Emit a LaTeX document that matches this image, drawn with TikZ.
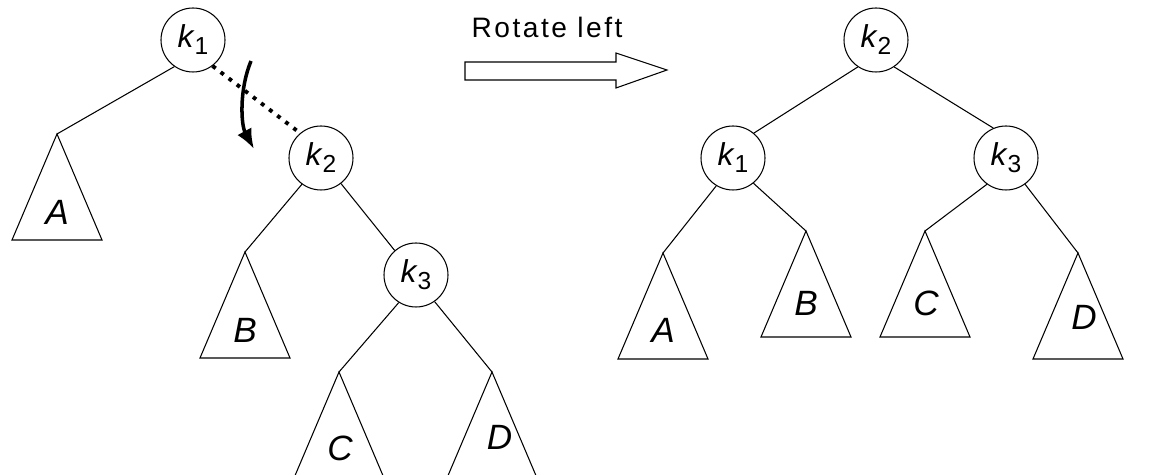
\documentclass[tikz,border=0pt]{standalone}
\usepackage{fontspec}
\setmainfont{Liberation Sans}
\usetikzlibrary{arrows.meta,calc}
\tikzset{
  keynode/.style={draw, circle, minimum size=12.8mm, inner sep=0pt, line width=0.6pt, font=\fontsize{18}{18}\selectfont},
  leaflabel/.style={font=\fontsize{20}{20}\selectfont\itshape, inner sep=0pt},
  branch/.style={draw, line width=0.6pt},
  dotbranch/.style={draw, line width=2.2pt, dash pattern=on 2.2pt off 3.6pt},
  turnarrow/.style={-{Latex[length=4mm, width=3.2mm]}, line width=2pt},
  blockarrow/.style={draw, line width=0.6pt, fill=white}
}
\newcommand{\keylabel}[1]{\textit{k}\raisebox{-4pt}{\fontsize{14}{14}\selectfont #1}}

\begin{document}
\begin{tikzpicture}
  \useasboundingbox (0,0) rectangle (23.28,9.5);
  \clip (0,0) rectangle (23.28,9.5);

  % before the rotation
  \node[keynode] (Lk1) at (3.86,8.70) {\keylabel{1}};
  \node[keynode] (Lk2) at (6.42,6.34) {\keylabel{2}};
  \node[keynode] (Lk3) at (8.32,4.00) {\keylabel{3}};

  % after the rotation
  \node[keynode] (Rk2) at (17.52,8.70) {\keylabel{2}};
  \node[keynode] (Rk1) at (14.66,6.34) {\keylabel{1}};
  \node[keynode] (Rk3) at (20.12,6.34) {\keylabel{3}};

  % subtrees
  \foreach \name/\x/\y/\dx/\dy/\txt in {LA/1.14/6.82/0/1.56/A, LB/4.90/4.46/0/1.56/B, LC/6.78/2.06/0.02/1.52/C, LD/9.84/2.06/0.15/1.30/D, RA/13.26/4.44/0/1.54/A, RB/16.12/4.88/0/1.44/B, RC/18.50/4.88/0.02/1.44/C, RD/21.56/4.44/0.12/1.28/D} {
    \coordinate (\name) at (\x,\y);
    \draw[branch] (\name) -- ++(-0.9,-2.12) -- ++(1.8,0) -- cycle;
    \node[leaflabel] (\name-text) at ($(\name)+(\dx,-\dy)$) {\txt};
  }

  \draw[branch] (Lk1.-125) -- (LA);
  \draw[dotbranch] (Lk1.-53) -- (Lk2.130);
  \draw[branch] (Lk2.-126) -- (LB);
  \draw[branch] (Lk2.-52) -- (Lk3.131);
  \draw[branch] (Lk3.-122) -- (LC);
  \draw[branch] (Lk3.-55) -- (LD);

  \draw[branch] (Rk2.-124) -- (Rk1.50);
  \draw[branch] (Rk2.-56) -- (Rk3.113);
  \draw[branch] (Rk1.-121) -- (RA);
  \draw[branch] (Rk1.-51) -- (RB);
  \draw[branch] (Rk3.-126) -- (RC);
  \draw[branch] (Rk3.-54) -- (RD);

  % turning arrow
  \coordinate (turnstart) at (5.02,8.28);
  \coordinate (turnend) at (5.08,6.52);
  \draw[turnarrow] (turnstart) .. controls (4.78,7.7) and (4.82,7.0) .. (turnend);

  % rotate left
  \draw[blockarrow] (9.30,8.26) -- (12.32,8.26) -- (12.32,8.44) -- (13.34,8.10) -- (12.32,7.74) -- (12.32,7.90) -- (9.30,7.90) -- cycle;
  \node[font=\fontsize{16}{16}\selectfont\addfontfeature{LetterSpace=9}, anchor=base, inner sep=0pt] (rotlabel) at (10.94,8.74) {Rotate left};
\end{tikzpicture}
\end{document}
